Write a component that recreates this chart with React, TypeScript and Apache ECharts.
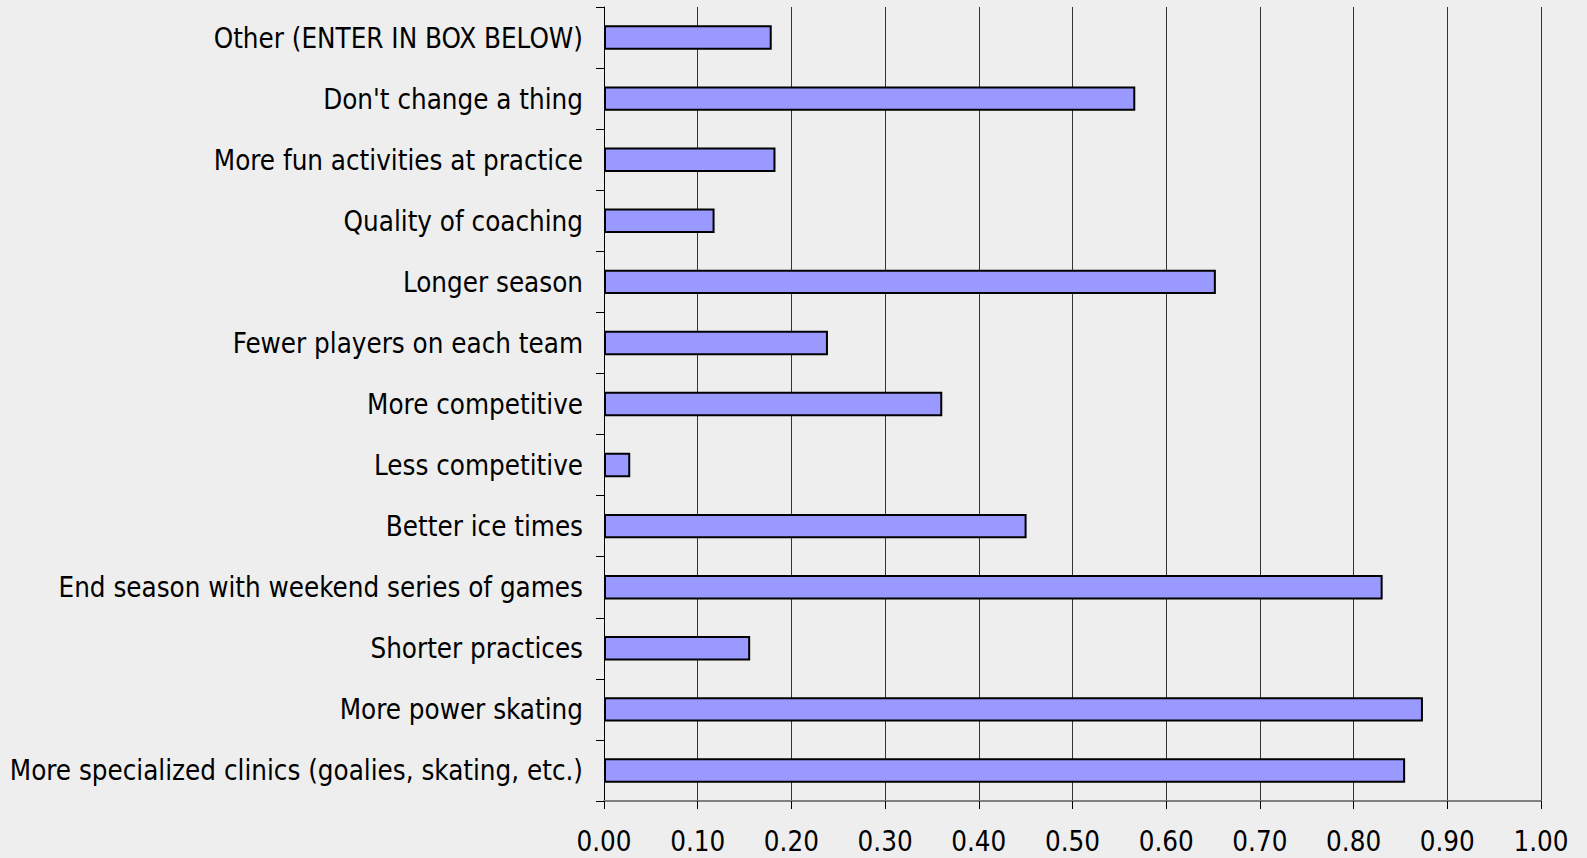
import React, { useEffect, useRef } from "react";
import * as echarts from "echarts";

const categories = [
  "Other (ENTER IN BOX BELOW)",
  "Don't change a thing",
  "More fun activities at practice",
  "Quality of coaching",
  "Longer season",
  "Fewer players on each team",
  "More competitive",
  "Less competitive",
  "Better ice times",
  "End season with weekend series of games",
  "Shorter practices",
  "More power skating",
  "More specialized clinics (goalies, skating, etc.)",
];

const values = [0.179, 0.567, 0.183, 0.118, 0.653, 0.239, 0.361, 0.028, 0.451, 0.831, 0.156, 0.874, 0.855];

const FONT = "'DejaVu Sans Condensed', 'DejaVu Sans', sans-serif";

export default function App() {
  const ref = useRef<HTMLDivElement>(null);
  useEffect(() => {
    if (!ref.current) return;
    const chart = echarts.init(ref.current, undefined, { renderer: "svg" });
    chart.setOption({
      animation: false,
      backgroundColor: "#eeeeee",
      grid: { left: 604, right: 46, top: 7, bottom: 57, containLabel: false },
      xAxis: {
        type: "value",
        min: 0,
        max: 1,
        interval: 0.1,
        axisLine: { show: true, lineStyle: { color: "#808080", width: 2 } },
        axisTick: { show: true, length: 8, lineStyle: { color: "#000000", width: 1 } },
        splitLine: { show: true, lineStyle: { color: "#333333", width: 1 } },
        axisLabel: {
          formatter: (v: number) => v.toFixed(2),
          color: "#000",
          fontSize: 27.5,
          fontFamily: FONT,
          margin: 26,
        },
      },
      yAxis: {
        type: "category",
        data: categories,
        inverse: true,
        axisLine: { show: true, lineStyle: { color: "#000000", width: 1 } },
        axisTick: { show: true, length: 8, inside: false, lineStyle: { color: "#000" } },
        splitLine: { show: false },
        axisLabel: {
          color: "#000",
          fontSize: 27.5,
          fontFamily: FONT,
          margin: 21,
        },
      },
      series: [
        {
          type: "bar",
          data: values,
          barWidth: "40%",
          itemStyle: { color: "#9999ff", borderColor: "#000000", borderWidth: 2 },
        },
      ],
    });
    return () => chart.dispose();
  }, []);
  return <div ref={ref} style={{ position: "fixed", left: 0, top: 0, width: 1587, height: 858 }} />;
}
